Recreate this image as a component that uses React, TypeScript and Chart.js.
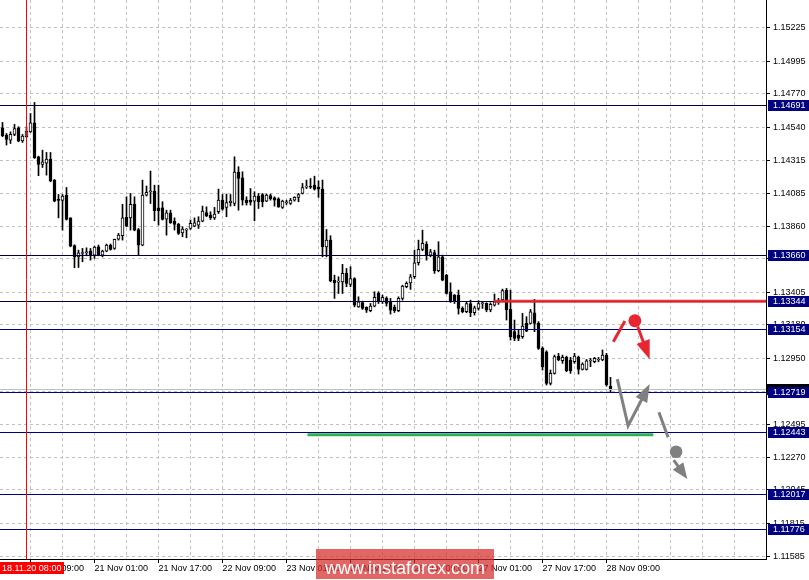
import React, { useEffect, useRef } from 'react';
import { Chart, registerables } from 'chart.js';

Chart.register(...registerables);

// EURUSD, H1 bars from 20 Nov 02:00 to 28 Nov 10:00 (index 0 .. 152)
const OPEN = [
  1.14537, 1.14486, 1.14452, 1.14491, 1.14537, 1.14447, 1.14475, 1.14509, 1.14571, 1.14337,
  1.14285, 1.14294, 1.14321, 1.14177, 1.14039, 1.14037, 1.14074, 1.13917, 1.13727, 1.13649,
  1.13672, 1.13677, 1.13691, 1.13661, 1.13718, 1.13661, 1.13688, 1.13730, 1.13707, 1.13771,
  1.13794, 1.13920, 1.13917, 1.14012, 1.13837, 1.13730, 1.14074, 1.14097, 1.14101, 1.13986,
  1.13986, 1.13908, 1.13952, 1.13895, 1.13874, 1.13814, 1.13833, 1.13844, 1.13860, 1.13867,
  1.13895, 1.13954, 1.13936, 1.13917, 1.13959, 1.14039, 1.13989, 1.14021, 1.14016, 1.14232,
  1.14193, 1.14039, 1.14039, 1.14032, 1.14067, 1.14078, 1.14032, 1.14071, 1.14055, 1.14048,
  1.13989, 1.14021, 1.14016, 1.14039, 1.14058, 1.14085, 1.14129, 1.14131, 1.14142, 1.14129,
  1.14115, 1.13718, 1.13764, 1.13489, 1.13475, 1.13477, 1.13535, 1.13459, 1.13500, 1.13305,
  1.13335, 1.13301, 1.13278, 1.13310, 1.13397, 1.13340, 1.13363, 1.13340, 1.13301, 1.13278,
  1.13363, 1.13443, 1.13470, 1.13512, 1.13608, 1.13700, 1.13737, 1.13661, 1.13679, 1.13553,
  1.13649, 1.13523, 1.13409, 1.13386, 1.13386, 1.13294, 1.13271, 1.13328, 1.13264, 1.13294,
  1.13326, 1.13329, 1.13283, 1.13317, 1.13333, 1.13352, 1.13420, 1.13287, 1.13134, 1.13111,
  1.13099, 1.13191, 1.13191, 1.13264, 1.13191, 1.13019, 1.12996, 1.12778, 1.12847, 1.12966,
  1.12934, 1.12957, 1.12939, 1.12927, 1.12957, 1.12874, 1.12874, 1.12932, 1.12927, 1.12939,
  1.12939, 1.12973, 1.12760,
];
const HIGH = [
  1.14574, 1.14498, 1.14509, 1.14560, 1.14544, 1.14491, 1.14544, 1.14635, 1.14711, 1.14342,
  1.14383, 1.14367, 1.14367, 1.14181, 1.14078, 1.14078, 1.14126, 1.13918, 1.13732, 1.13695,
  1.13707, 1.13711, 1.13707, 1.13723, 1.13730, 1.13695, 1.13737, 1.13737, 1.13771, 1.13810,
  1.14010, 1.14062, 1.14085, 1.14062, 1.13844, 1.14177, 1.14136, 1.14239, 1.14142, 1.14142,
  1.14028, 1.13970, 1.13970, 1.13917, 1.13879, 1.13856, 1.13844, 1.13902, 1.13917, 1.13925,
  1.13998, 1.13993, 1.13959, 1.13989, 1.14115, 1.14078, 1.14081, 1.14078, 1.14337, 1.14269,
  1.14234, 1.14062, 1.14119, 1.14097, 1.14085, 1.14085, 1.14081, 1.14081, 1.14062, 1.14055,
  1.14039, 1.14039, 1.14051, 1.14062, 1.14085, 1.14154, 1.14177, 1.14188, 1.14204, 1.14172,
  1.14177, 1.13837, 1.13794, 1.13523, 1.13512, 1.13597, 1.13569, 1.13581, 1.13505, 1.13374,
  1.13344, 1.13305, 1.13328, 1.13409, 1.13409, 1.13386, 1.13374, 1.13363, 1.13317, 1.13374,
  1.13454, 1.13477, 1.13528, 1.13695, 1.13764, 1.13833, 1.13753, 1.13700, 1.13695, 1.13753,
  1.13661, 1.13528, 1.13470, 1.13390, 1.13420, 1.13305, 1.13340, 1.13351, 1.13310, 1.13347,
  1.13340, 1.13333, 1.13333, 1.13393, 1.13363, 1.13427, 1.13432, 1.13420, 1.13214, 1.13145,
  1.13260, 1.13237, 1.13287, 1.13356, 1.13203, 1.13030, 1.13003, 1.12870, 1.12973, 1.12985,
  1.12973, 1.12966, 1.12957, 1.12985, 1.12966, 1.12920, 1.12943, 1.12950, 1.12957, 1.12957,
  1.13008, 1.12985, 1.12820,
];
const LOW = [
  1.14475, 1.14418, 1.14429, 1.14482, 1.14441, 1.14436, 1.14470, 1.14505, 1.14326, 1.14207,
  1.14264, 1.14211, 1.14165, 1.14028, 1.13917, 1.13833, 1.13902, 1.13718, 1.13574, 1.13576,
  1.13615, 1.13656, 1.13626, 1.13638, 1.13656, 1.13649, 1.13684, 1.13695, 1.13700, 1.13764,
  1.13764, 1.13856, 1.13833, 1.13828, 1.13661, 1.13725, 1.14067, 1.14016, 1.13897, 1.13867,
  1.13902, 1.13798, 1.13879, 1.13833, 1.13803, 1.13787, 1.13780, 1.13837, 1.13856, 1.13844,
  1.13890, 1.13925, 1.13906, 1.13906, 1.13947, 1.13970, 1.13925, 1.13998, 1.14000, 1.13970,
  1.14005, 1.14005, 1.14005, 1.13897, 1.13982, 1.13993, 1.14028, 1.14039, 1.13998, 1.13989,
  1.13982, 1.14009, 1.14009, 1.14032, 1.14028, 1.14081, 1.14119, 1.14119, 1.14108, 1.14058,
  1.13649, 1.13649, 1.13477, 1.13363, 1.13397, 1.13397, 1.13443, 1.13443, 1.13305, 1.13301,
  1.13287, 1.13266, 1.13271, 1.13305, 1.13328, 1.13328, 1.13310, 1.13255, 1.13266, 1.13271,
  1.13351, 1.13436, 1.13425, 1.13500, 1.13592, 1.13691, 1.13626, 1.13649, 1.13535, 1.13546,
  1.13484, 1.13393, 1.13335, 1.13328, 1.13255, 1.13264, 1.13264, 1.13237, 1.13248, 1.13282,
  1.13294, 1.13271, 1.13271, 1.13310, 1.13322, 1.13340, 1.13214, 1.13076, 1.13072, 1.13072,
  1.13088, 1.13134, 1.13187, 1.13134, 1.13012, 1.12870, 1.12767, 1.12767, 1.12842, 1.12934,
  1.12916, 1.12858, 1.12847, 1.12916, 1.12842, 1.12870, 1.12870, 1.12893, 1.12920, 1.12927,
  1.12934, 1.12760, 1.12721,
];
const CLOSE = [
  1.14482, 1.14457, 1.14491, 1.14532, 1.14445, 1.14480, 1.14514, 1.14571, 1.14330, 1.14285,
  1.14303, 1.14321, 1.14172, 1.14032, 1.14037, 1.14067, 1.13906, 1.13723, 1.13649, 1.13677,
  1.13679, 1.13684, 1.13661, 1.13716, 1.13661, 1.13688, 1.13730, 1.13700, 1.13769, 1.13798,
  1.13918, 1.13860, 1.14010, 1.13833, 1.13730, 1.14074, 1.14092, 1.14101, 1.13966, 1.13966,
  1.13906, 1.13952, 1.13883, 1.13872, 1.13810, 1.13840, 1.13837, 1.13879, 1.13883, 1.13895,
  1.13963, 1.13931, 1.13917, 1.13943, 1.14039, 1.13977, 1.14023, 1.14032, 1.14232, 1.14188,
  1.14039, 1.14021, 1.14025, 1.14067, 1.14028, 1.14028, 1.14074, 1.14048, 1.14039, 1.13993,
  1.14032, 1.14025, 1.14039, 1.14058, 1.14078, 1.14126, 1.14133, 1.14129, 1.14115, 1.14115,
  1.13718, 1.13764, 1.13484, 1.13470, 1.13480, 1.13535, 1.13466, 1.13500, 1.13317, 1.13340,
  1.13294, 1.13282, 1.13310, 1.13370, 1.13340, 1.13370, 1.13328, 1.13282, 1.13278, 1.13363,
  1.13447, 1.13466, 1.13512, 1.13608, 1.13700, 1.13741, 1.13661, 1.13684, 1.13553, 1.13649,
  1.13489, 1.13397, 1.13340, 1.13340, 1.13294, 1.13271, 1.13328, 1.13264, 1.13298, 1.13328,
  1.13329, 1.13283, 1.13322, 1.13340, 1.13338, 1.13416, 1.13283, 1.13099, 1.13088, 1.13088,
  1.13173, 1.13138, 1.13271, 1.13191, 1.13019, 1.12893, 1.12778, 1.12847, 1.12962, 1.12939,
  1.12957, 1.12865, 1.12865, 1.12966, 1.12874, 1.12911, 1.12934, 1.12937, 1.12950, 1.12943,
  1.12973, 1.12767, 1.12737,
];

// Time axis: bar index of each labelled tick and its text
const TIME_TICK_INDEX = [7, 23, 39, 55, 71, 87, 103, 119, 135, 151];
const TIME_TICK_LABELS = [
  '20 Nov 09:00', '21 Nov 01:00', '21 Nov 17:00', '22 Nov 09:00', '23 Nov 01:00',
  '23 Nov 17:00', '26 Nov 09:00', '27 Nov 01:00', '27 Nov 17:00', '28 Nov 09:00',
];
const GRID_EVERY = 8;

// Price axis
const PRICE_TICKS = [
  1.15225, 1.14995, 1.1477, 1.1454, 1.14315, 1.14085, 1.1386, 1.13635, 1.13405,
  1.1318, 1.1295, 1.12725, 1.12495, 1.1227, 1.12045, 1.11815, 1.11585,
];
const PRICE_MIN = 1.1157;
const PRICE_MAX = 1.15416;
const BAR_MIN = -0.625;
const BAR_MAX = 190.875;

// Horizontal levels and markers
const LEVELS = [1.14691, 1.1366, 1.13344, 1.13154, 1.12719, 1.12443, 1.12017, 1.11776];
const BID = 1.12738;
const MARKER_INDEX = 6;
const MARKER_LABEL = '18.11.20 08:00';
const RESISTANCE = { from: 122.8, value: 1.13344 };
const SUPPORT = { from: 76.25, to: 162.7, value: 1.12425 };

// Scenario arrows, as [bar index, price]
const RED_STROKE: [number, number][] = [[152.7, 1.13065], [155.6, 1.13207]];
const RED_DOT: [number, number] = [158.1, 1.13209];
const RED_ARROW: [number, number][] = [[158.8, 1.13168], [161.8, 1.12944]];
const GRAY_ZIGZAG: [number, number][] = [[153.7, 1.12808], [156.4, 1.12487], [161.8, 1.12774]];
const GRAY_STROKE: [number, number][] = [[164.1, 1.12579], [166.4, 1.12407]];
const GRAY_DOT: [number, number] = [168.4, 1.12308];
const GRAY_ARROW: [number, number][] = [[167.8, 1.12251], [171.2, 1.1212]];

const WATERMARK = 'www.instaforex.com';
const FONT = "'Liberation Sans', Arial, sans-serif";
const NAVY = '#000080';
const RED = '#e8262f';
const GRAY = '#808080';

const gridIndex: number[] = [];
for (let v = TIME_TICK_INDEX[0]; v <= BAR_MAX; v += GRID_EVERY) gridIndex.push(v);

const labelFor = (v: number) => {
  const k = TIME_TICK_INDEX.indexOf(v);
  return k >= 0 ? TIME_TICK_LABELS[k] : '';
};

// axes keep the plot flush with the canvas edges
const noPadding = (s: any) => {
  s.paddingTop = 0;
  s.paddingBottom = 0;
  s.paddingLeft = 0;
  s.paddingRight = 0;
};

function drawArrow(
  ctx: CanvasRenderingContext2D,
  pts: [number, number][],
  color: string,
  width: number,
  headLen: number,
  headW: number,
) {
  const n = pts.length;
  const [tx, ty] = pts[n - 1];
  const [px, py] = pts[n - 2];
  const ang = Math.atan2(ty - py, tx - px);
  const bx = tx - Math.cos(ang) * headLen;
  const by = ty - Math.sin(ang) * headLen;
  ctx.strokeStyle = color;
  ctx.fillStyle = color;
  ctx.lineWidth = width;
  ctx.lineJoin = 'miter';
  ctx.lineCap = 'butt';
  ctx.beginPath();
  ctx.moveTo(pts[0][0], pts[0][1]);
  for (let i = 1; i < n - 1; i++) ctx.lineTo(pts[i][0], pts[i][1]);
  ctx.lineTo(bx + Math.cos(ang) * 2, by + Math.sin(ang) * 2);
  ctx.stroke();
  const sx = Math.sin(ang) * headW / 2;
  const sy = Math.cos(ang) * headW / 2;
  ctx.beginPath();
  ctx.moveTo(tx, ty);
  ctx.lineTo(bx + sx, by - sy);
  ctx.lineTo(bx - sx, by + sy);
  ctx.closePath();
  ctx.fill();
}

const overlayPlugin = {
  id: 'terminalOverlay',
  afterDatasetsDraw(chart: any) {
    const { ctx, chartArea: a } = chart;
    const xs = chart.scales.x;
    const ys = chart.scales.y;
    const px = (v: number) => xs.getPixelForValue(v);
    const py = (v: number) => ys.getPixelForValue(v);
    const pt = (p: [number, number]): [number, number] => [px(p[0]), py(p[1])];
    const crisp = (v: number) => Math.round(v) + 0.5;

    ctx.save();
    ctx.beginPath();
    ctx.rect(a.left, a.top, a.right - a.left, a.bottom - a.top);
    ctx.clip();

    // bid line
    ctx.strokeStyle = '#c0c0c0';
    ctx.lineWidth = 1;
    ctx.beginPath();
    ctx.moveTo(a.left, crisp(py(BID)));
    ctx.lineTo(a.right, crisp(py(BID)));
    ctx.stroke();

    // horizontal levels
    LEVELS.forEach((lv, k) => {
      ctx.strokeStyle = k < 3 ? '#000040' : NAVY;
      ctx.beginPath();
      ctx.moveTo(a.left, crisp(py(lv)));
      ctx.lineTo(a.right, crisp(py(lv)));
      ctx.stroke();
    });

    // vertical time marker
    ctx.strokeStyle = '#ff0000';
    ctx.beginPath();
    ctx.moveTo(crisp(px(MARKER_INDEX) - 0.5), a.top);
    ctx.lineTo(crisp(px(MARKER_INDEX) - 0.5), a.bottom);
    ctx.stroke();

    // resistance and support
    ctx.lineWidth = 3;
    ctx.strokeStyle = 'rgba(232,38,47,0.92)';
    ctx.beginPath();
    ctx.moveTo(px(RESISTANCE.from), py(RESISTANCE.value));
    ctx.lineTo(a.right, py(RESISTANCE.value));
    ctx.stroke();
    ctx.strokeStyle = '#2eb34c';
    ctx.beginPath();
    ctx.moveTo(px(SUPPORT.from), py(SUPPORT.value));
    ctx.lineTo(px(SUPPORT.to), py(SUPPORT.value));
    ctx.stroke();

    // bearish scenario
    ctx.lineCap = 'butt';
    ctx.strokeStyle = RED;
    ctx.lineWidth = 3;
    ctx.beginPath();
    ctx.moveTo(...pt(RED_STROKE[0]));
    ctx.lineTo(...pt(RED_STROKE[1]));
    ctx.stroke();
    ctx.fillStyle = RED;
    ctx.beginPath();
    ctx.arc(...pt(RED_DOT), 6.5, 0, Math.PI * 2);
    ctx.fill();
    drawArrow(ctx, RED_ARROW.map(pt), RED, 3, 19, 14);

    // bullish pullback and continuation
    drawArrow(ctx, GRAY_ZIGZAG.map(pt), GRAY, 3, 18, 13);
    ctx.strokeStyle = GRAY;
    ctx.lineWidth = 3;
    ctx.beginPath();
    ctx.moveTo(...pt(GRAY_STROKE[0]));
    ctx.lineTo(...pt(GRAY_STROKE[1]));
    ctx.stroke();
    ctx.fillStyle = GRAY;
    ctx.beginPath();
    ctx.arc(...pt(GRAY_DOT), 6.3, 0, Math.PI * 2);
    ctx.fill();
    drawArrow(ctx, GRAY_ARROW.map(pt), GRAY, 3, 16, 13);

    ctx.restore();
  },
  afterDraw(chart: any) {
    const { ctx, chartArea: a, width, height } = chart;
    const ys = chart.scales.y;
    const py = (v: number) => ys.getPixelForValue(v);
    ctx.save();
    ctx.font = `9px ${FONT}`;
    ctx.textBaseline = 'middle';
    ctx.textAlign = 'left';

    // bid price box, mostly hidden under the level box
    ctx.fillStyle = '#000';
    ctx.fillRect(a.right + 1, Math.round(py(BID)) - 5, width - a.right - 1, 11);

    LEVELS.forEach((lv) => {
      const y = Math.round(py(lv));
      ctx.fillStyle = NAVY;
      ctx.fillRect(a.right + 2, y - 5, width - a.right - 2, 11);
      ctx.fillStyle = '#fff';
      ctx.fillText(lv.toFixed(5), a.right + 7, y + 0.5);
    });

    // time marker label
    ctx.fillStyle = '#ff0000';
    ctx.fillRect(0, a.bottom + 3, 64, 12);
    ctx.fillStyle = '#fff';
    ctx.fillText(MARKER_LABEL, 2, a.bottom + 9.5);

    // watermark
    ctx.fillStyle = 'rgba(214,44,44,0.72)';
    ctx.fillRect(316, height - 31, 178, 30);
    ctx.fillStyle = '#fff';
    ctx.font = `18px ${FONT}`;
    ctx.textAlign = 'center';
    ctx.textBaseline = 'alphabetic';
    ctx.fillText(WATERMARK, 405, height - 6);
    ctx.restore();
  },
};

export default function App() {
  const ref = useRef<HTMLCanvasElement>(null);

  useEffect(() => {
    const idx = OPEN.map((_, i) => i);
    const chart = new Chart(ref.current as HTMLCanvasElement, {
      type: 'bar',
      data: {
        datasets: [
          {
            label: 'body',
            data: idx.map((i) => ({ x: i, y: [OPEN[i], CLOSE[i]] })) as any,
            backgroundColor: idx.map((i) => (CLOSE[i] >= OPEN[i] ? '#ffffff' : '#000000')),
            borderColor: '#000000',
            borderWidth: 1,
            borderSkipped: false,
            barThickness: 3,
            minBarLength: 1,
            grouped: false,
          } as any,
          {
            label: 'range',
            data: idx.map((i) => ({ x: i, y: [LOW[i], HIGH[i]] })) as any,
            backgroundColor: '#000000',
            borderWidth: 0,
            barThickness: 1,
            grouped: false,
          } as any,
        ],
      },
      options: {
        responsive: false,
        animation: false,
        devicePixelRatio: 1,
        layout: { padding: 0 },
        plugins: { legend: { display: false }, tooltip: { enabled: false } },
        scales: {
          x: {
            type: 'linear',
            position: 'bottom',
            offset: false,
            min: BAR_MIN,
            max: BAR_MAX,
            afterBuildTicks: (s: any) => {
              s.ticks = gridIndex.map((v) => ({ value: v }));
            },
            afterFit: (s: any) => {
              s.height = 21;
              noPadding(s);
            },
            ticks: {
              autoSkip: false,
              maxRotation: 0,
              minRotation: 0,
              align: 'start',
              padding: 0,
              color: '#000',
              font: { family: FONT, size: 9 },
              callback: (v: any) => labelFor(Number(v)),
            },
            grid: {
              offset: false,
              color: '#c0c0c0',
              lineWidth: 1,
              tickLength: 4,
              tickWidth: 1,
              tickColor: (c: any) => (labelFor(c.tick?.value) ? '#000' : 'rgba(0,0,0,0)'),
            },
            border: { display: true, color: '#000', width: 1, dash: [3, 3] },
          } as any,
          y: {
            type: 'linear',
            position: 'right',
            min: PRICE_MIN,
            max: PRICE_MAX,
            afterBuildTicks: (s: any) => {
              s.ticks = PRICE_TICKS.map((v) => ({ value: v }));
            },
            afterFit: (s: any) => {
              s.width = 43;
              noPadding(s);
            },
            ticks: {
              padding: 3,
              color: '#000',
              font: { family: FONT, size: 9 },
              callback: (v: any) => Number(v).toFixed(5),
            },
            grid: {
              color: '#c0c0c0',
              lineWidth: 1,
              tickLength: 4,
              tickColor: '#000',
            },
            border: { display: true, color: '#000', width: 1, dash: [3, 3] },
          } as any,
        },
      },
      plugins: [overlayPlugin],
    });
    return () => chart.destroy();
  }, []);

  return (
    <div style={{ position: 'fixed', left: 0, top: 0, width: 809, height: 580, background: '#fff' }}>
      <canvas ref={ref} width={809} height={580} style={{ display: 'block' }} />
    </div>
  );
}
